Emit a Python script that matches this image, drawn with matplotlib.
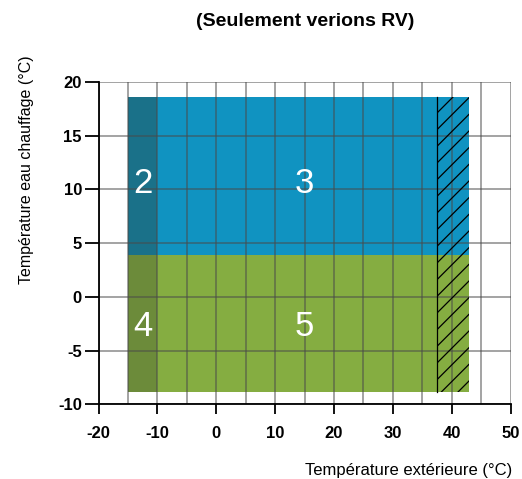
import matplotlib
matplotlib.use("Agg")
import matplotlib.pyplot as plt
from matplotlib.patches import Rectangle

# zones (x0, x1, y0, y1), colour, label
zone_x = [[-15, -10], [-10, 43], [-15, -10], [-10, 43]]
zone_y = [[3.9, 18.6], [3.9, 18.6], [-8.9, 3.9], [-8.9, 3.9]]
zone_colors = ["#1a7189", "#1093c1", "#6c8b3a", "#85ad41"]
zone_labels = ["2", "3", "4", "5"]
label_x = [-12.5, 15, -12.5, 15]
label_y = [10.5, 10.5, -2.8, -2.8]

hatch_x = [37.5, 43]
hatch_y = [-8.9, 18.6]

xticks = [-20, -10, 0, 10, 20, 30, 40, 50]
yticks = [-10, -5, 0, 5, 10, 15, 20]
grid_x = list(range(-20, 51, 5))
grid_y = list(range(-10, 21, 5))

plt.rcParams['font.family'] = ['Liberation Sans Narrow', 'Liberation Sans', 'DejaVu Sans']
plt.rcParams['hatch.linewidth'] = 0.9

fig = plt.figure(figsize=(5.22, 4.79), dpi=100)
ax = fig.add_axes([0.189, 0.156, 0.789, 0.673])

for xs, ys, c in zip(zone_x, zone_y, zone_colors):
    ax.add_patch(Rectangle((xs[0], ys[0]), xs[1] - xs[0], ys[1] - ys[0],
                           facecolor=c, edgecolor="none", zorder=1))

# grid on top of the zones
for gx in grid_x:
    ax.plot([gx, gx], [-10, 20], color="#4a4a4a", alpha=0.55, lw=1.3, zorder=2)
for gy in grid_y:
    ax.plot([-20, 50], [gy, gy], color="#4a4a4a", alpha=0.55, lw=1.3, zorder=2)

ax.add_patch(Rectangle((hatch_x[0], hatch_y[0]), hatch_x[1] - hatch_x[0],
                       hatch_y[1] - hatch_y[0], facecolor="none",
                       edgecolor="black", hatch="//", lw=0, zorder=3))
ax.plot([hatch_x[0], hatch_x[0]], hatch_y, color="black", lw=0.9, zorder=3)

for t, lx, ly in zip(zone_labels, label_x, label_y):
    ax.text(lx, ly, t, color="white", fontsize=25, ha="center", va="center",
            zorder=4)

ax.set_xlim(-20, 50)
ax.set_ylim(-10, 20)
ax.set_xticks(xticks)
ax.set_yticks(yticks)
ax.set_xticklabels([str(v) for v in xticks], fontsize=12, fontweight="bold")
ax.set_yticklabels([str(v) for v in yticks], fontsize=12, fontweight="bold")
ax.tick_params(axis="x", direction="out", length=7, width=1.3, pad=9)
ax.tick_params(axis="y", direction="out", length=10, width=1.3, pad=2)

for s in ["top", "right"]:
    ax.spines[s].set_visible(False)
ax.spines["left"].set_linewidth(1.3)
ax.spines["bottom"].set_linewidth(1.3)

fig.text(305 / 522, 1 - 22 / 479, "(Seulement verions RV)", fontsize=14,
         fontweight="bold", ha="center", va="center")
fig.text(512 / 522, 1 - 470 / 479, "Température extérieure (°C)", fontsize=12,
         ha="right", va="center")
fig.text(27 / 522, 1 - 55 / 479, "Température eau chauffage (°C)", fontsize=11.5,
         rotation=90, ha="center", va="top")

fig.savefig("out.png", dpi=100)
